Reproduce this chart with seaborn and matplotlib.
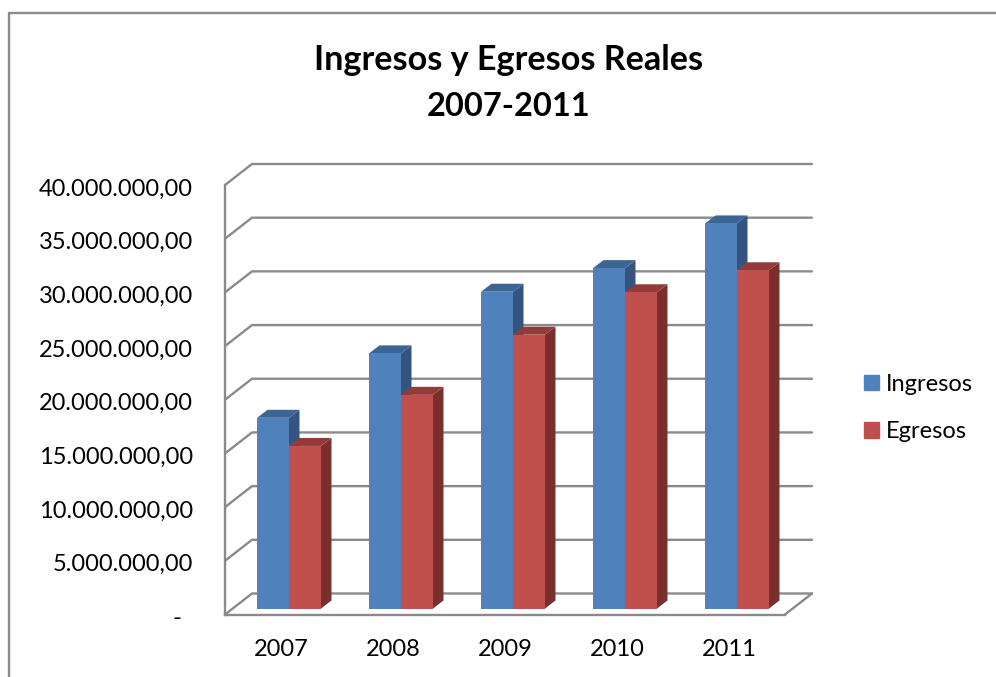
import pandas as pd
import seaborn as sns
import matplotlib.pyplot as plt
from matplotlib.lines import Line2D
from matplotlib.patches import Polygon
from matplotlib.transforms import Affine2D, IdentityTransform

# Data
years = ["2007", "2008", "2009", "2010", "2011"]
ingresos = [17760000, 23760000, 29500000, 31700000, 35860000]
egresos = [15140000, 19900000, 25500000, 29450000, 31500000]
y_ticks = [0, 5000000, 10000000, 15000000, 20000000, 25000000, 30000000, 35000000, 40000000]
y_labels = ["-", "5.000.000,00", "10.000.000,00", "15.000.000,00", "20.000.000,00",
            "25.000.000,00", "30.000.000,00", "35.000.000,00", "40.000.000,00"]

W, H = 996, 677
GREY = "#8a8a8a"
BLUE, RED = "#4F81BD", "#C0504D"
# (side face, top face) for each series
SHADES = [("#34557f", "#3d6594"), ("#7b2f2d", "#933b38")]

# Depth of the fake 3D box and of the bars, in pixels
WALL_DX, WALL_DY = 27, 21
BAR_DX, BAR_DY = 10.5, 8
BAR_SHIFT_X, BAR_SHIFT_Y = 8, 6

sns.set_theme(style="white")
plt.rcParams["font.family"] = ["Lato", "DejaVu Sans"]
plt.rcParams["text.color"] = "black"

df = pd.DataFrame({
    "Año": years * 2,
    "Serie": ["Ingresos"] * len(years) + ["Egresos"] * len(years),
    "Valor": ingresos + egresos,
})

fig = plt.figure(figsize=(W / 100, H / 100), dpi=100)
ax = fig.add_axes([225 / W, 1 - 614.5 / H, 560 / W, 429.5 / H])

sns.barplot(data=df, x="Año", y="Valor", hue="Serie", hue_order=["Ingresos", "Egresos"],
            palette=[BLUE, RED], width=0.571, gap=0, saturation=1, ax=ax, legend=False)
ax.set_xlim(-0.5, 4.5)
ax.set_ylim(0, 40000000)
ax.set_xlabel("")
ax.set_ylabel("")
ax.set_yticks(y_ticks)
ax.set_yticklabels(y_labels)
ax.tick_params(axis="y", length=0, pad=23, labelsize=17, labelcolor="black")
ax.tick_params(axis="x", length=0, pad=17.5, labelsize=17, labelcolor="black")
ax.patch.set_alpha(0)
sns.despine(ax=ax, top=True, right=True)
for side in ["left", "bottom"]:
    ax.spines[side].set_color(GREY)
    ax.spines[side].set_linewidth(1.7)

# Labels sit slightly below their gridline; the "-" of the accounting format
# also sits left of the number column
for i, label in enumerate(ax.get_yticklabels()):
    label.set_transform(label.get_transform() + Affine2D().translate(-12 if i == 0 else 0, -2))


def poly(points, color, z):
    ax.add_patch(Polygon(points, closed=True, facecolor=color, edgecolor="none",
                         transform=IdentityTransform(), clip_on=False, zorder=z))


def wall_line(points):
    xs, ys = zip(*points)
    ax.add_line(Line2D(xs, ys, color=GREY, lw=1.7, transform=IdentityTransform(),
                       clip_on=False, zorder=1, solid_joinstyle="miter"))


# Gridlines running up the side wall and along the back wall
for tick in y_ticks:
    x0, y0 = ax.transData.transform((-0.5, tick))
    x1, _ = ax.transData.transform((4.5, tick))
    wall_line([(x0, y0), (x0 + WALL_DX, y0 + WALL_DY), (x1 + WALL_DX, y0 + WALL_DY)])
x1, y0 = ax.transData.transform((4.5, 0))
wall_line([(x1, y0), (x1 + WALL_DX, y0 + WALL_DY)])

# Bars are sitting inside the box, so move them back and add side and top faces
shift = ax.transData + Affine2D().translate(BAR_SHIFT_X, BAR_SHIFT_Y)
for container, (side, top), base_z in zip(ax.containers, SHADES, [3, 4]):
    for bar in container:
        bar.set_transform(shift)
        bar.set_zorder(6)
        bar.set_linewidth(0)
        (xa, ya), (xb, yb) = shift.transform([(bar.get_x(), 0),
                                              (bar.get_x() + bar.get_width(), bar.get_height())])
        poly([(xb, ya), (xb + BAR_DX, ya + BAR_DY), (xb + BAR_DX, yb + BAR_DY), (xb, yb)], side, base_z)
        poly([(xa, yb), (xa + BAR_DX, yb + BAR_DY), (xb + BAR_DX, yb + BAR_DY), (xb, yb)], top, base_z)

# Title in two lines
fig.text(508.5 / W, 1 - 60 / H, "Ingresos y Egresos Reales", ha="center", va="center",
         fontsize=24.6, fontweight="bold", color="black")
fig.text(508.5 / W, 1 - 106 / H, "2007-2011", ha="center", va="center",
         fontsize=23.5, fontweight="bold", color="black")

# Legend
handles = [plt.Rectangle((0, 0), 1, 1, color=BLUE), plt.Rectangle((0, 0), 1, 1, color=RED)]
fig.legend(handles, ["Ingresos", "Egresos"], loc="center left",
           bbox_to_anchor=(864 / W, 1 - 408 / H), frameon=False, fontsize=17,
           handlelength=0.635, handleheight=0.635, handletextpad=0.3, labelspacing=1.11,
           borderpad=0, borderaxespad=0)

# Outer chart frame, cut by the picture on the right and at the bottom
fig.add_artist(Line2D([8.5 / W, 8.5 / W, 1], [0, 1 - 13 / H, 1 - 13 / H], color=GREY, lw=1.7))

fig.savefig("out.png", dpi=100)
